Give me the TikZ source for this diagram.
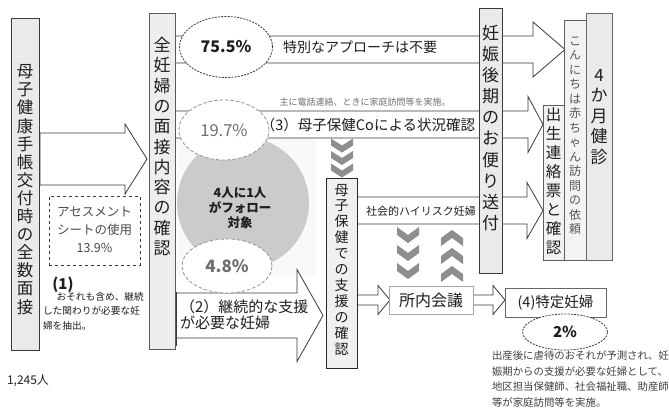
\documentclass[tikz,border=0pt]{standalone}
\usepackage{fontspec}
\setmainfont{Noto Sans CJK JP}
\usetikzlibrary{shapes.geometric}
\definecolor{lineC}{HTML}{3A3A3A}
\definecolor{boxF}{HTML}{EAEAEA}
\definecolor{chevC}{HTML}{8E8E8E}
\definecolor{txtC}{HTML}{1E1E1E}
\definecolor{grayT}{HTML}{6E6E6E}
\definecolor{circC}{HTML}{CBCBCB}
\newcommand\hollowarrow[7][]{%
  \draw[arrowshape,#1] ({#2},{#4-#5}) -- ({#3-#7},{#4-#5}) -- ({#3-#7},{#4-#6}) -- ({#3},{#4}) -- ({#3-#7},{#4+#6}) -- ({#3-#7},{#4+#5}) -- ({#2},{#4+#5}) -- cycle;}
\begin{document}
\lineskiplimit=-100pt
\begin{tikzpicture}[x=1pt,y=-1pt,
  every node/.style={inner sep=0pt, outer sep=0pt, text=txtC},
  vbox/.style={draw=lineC, fill=boxF, line width=.8pt},
  vtext/.style={align=center, execute at begin node={\lineskiplimit=-100pt}},
  arrowshape/.style={draw=lineC, fill=white, line width=.8pt, line join=miter},
  ellip/.style={ellipse, draw=lineC, fill=white, line width=.8pt, dash pattern=on 2pt off 1.2pt},
  chevdown/.pic={\fill[chevC] (-11,-7) -- (0,0) -- (11,-7) -- (11,0) -- (0,7) -- (-11,0) -- cycle;},
  chevup/.pic={\fill[chevC] (-11,7) -- (0,0) -- (11,7) -- (11,0) -- (0,-7) -- (-11,0) -- cycle;}
]
\useasboundingbox (0,0) rectangle (669,410);

% soft background and circle
\fill[gray!5] (177,138) rectangle (316,276);
\fill[circC] (243,203) circle (66pt);

% hollow arrows / bands
\hollowarrow{175}{565}{49.5}{13.5}{27.5}{32}
\hollowarrow{175}{543}{124.5}{13.5}{28}{15}
\hollowarrow{357}{543}{210.5}{13.5}{28}{16}
\hollowarrow{40}{147}{159}{26}{35}{22}
\hollowarrow{176}{323}{315.5}{22.5}{46}{26}
\hollowarrow{357}{390}{300}{5}{14.5}{12}
\hollowarrow{473}{505}{300}{5}{14.5}{12}
\draw[line width=1.6pt, lineC] (176,292) -- (176,346);

% boxes
\node[vbox, minimum width=28, minimum height=332] (mother) at (25,184) {};
\node[vtext, font=\fontsize{16.5}{18.1}\selectfont] (mothertxt) at (25,189.5)
  {母\\子\\健\\康\\手\\帳\\交\\付\\時\\の\\全\\数\\面\\接};
\node[vbox, draw=gray!70!black, fill=boxF!80!white, minimum width=26, minimum height=336] (allp) at (162,181) {};
\node[vtext, font=\fontsize{17}{20.3}\selectfont] (allptxt) at (162,146.5)
  {全\\妊\\婦\\の\\面\\接\\内\\容\\の\\確\\認};
\node[vbox, minimum width=23, minimum height=265] (letter) at (490.5,140.5) {};
\node[vtext, font=\fontsize{17}{21.1}\selectfont] (lettertxt) at (490.5,128)
  {妊\\娠\\後\\期\\の\\お\\便\\り\\送\\付};
\node[vbox, draw=black!85, fill=boxF!70!white, minimum width=31, minimum height=190] (mch) at (341.5,273) {};
\node[vtext, font=\fontsize{14}{15.9}\selectfont] (mchtxt) at (341.5,269.5)
  {母\\子\\保\\健\\で\\の\\支\\援\\の\\確\\認};
\node[vbox, draw=gray!75!black, fill=boxF!60!white, minimum width=21, minimum height=155] (birth) at (553.5,182.5) {};
\node[vtext, font=\fontsize{15.5}{19}\selectfont] (birthtxt) at (553.5,181.5)
  {出\\生\\連\\絡\\票\\と\\確\\認};
\node[vbox, draw=gray!75!black, fill=boxF!55!white, minimum width=22, minimum height=240] (hello) at (575,140) {};
\node[vtext, text=grayT!80!black, font=\fontsize{12}{14.5}\selectfont] (hellotxt) at (575,136)
  {こ\\ん\\に\\ち\\は\\赤\\ち\\ゃ\\ん\\訪\\問\\の\\依\\頼};
\node[vbox, draw=gray!80!black, minimum width=26, minimum height=247] (fourm) at (599,136.5) {};
\node[vtext, font=\fontsize{17}{20.5}\selectfont] (fourmtxt) at (599,117)
  {4\\か\\月\\健\\診};

\node[draw=gray!70, fill=white, line width=.8pt, minimum width=84, minimum height=28,
  font=\fontsize{16}{18}\selectfont] (meeting) at (431,300) {所内会議};
\node[draw=gray!80!black, fill=white, line width=.8pt, minimum width=101, minimum height=29,
  font=\fontsize{14.5}{16}\selectfont] (special) at (555.5,302.5) {(4)特定妊婦};

\node[draw=lineC, dashed, line width=.8pt, minimum width=91, minimum height=69] (assess) at (94.5,230.5) {};
\node[vtext, text=txtC!80, font=\fontsize{12.5}{18}\selectfont] (assesstxt) at (94.5,230)
  {アセスメント\\シートの使用\\13.9\%};

% ellipses
\node[ellip, minimum width=93, minimum height=61, font=\fontsize{16}{18}\selectfont\bfseries] (e755) at (226,47) {75.5\%};
\node[ellip, draw=gray!85, dash pattern=on 3.5pt off 2pt, minimum width=90, minimum height=60,
  text=grayT, font=\fontsize{16.5}{18}\selectfont] (e197) at (224,130) {19.7\%};
\node[ellip, draw=gray!85, dash pattern=on 3.5pt off 2pt, minimum width=90, minimum height=54,
  text=grayT, font=\fontsize{17}{18}\selectfont\bfseries] (e48) at (227,266) {4.8\%};
\node[ellip, minimum width=85, minimum height=36, font=\fontsize{15}{18}\selectfont\bfseries] (e2) at (565,332) {2\%};

% chevrons
\foreach \yy in {145.5,158,170.5} \pic at (342,\yy) {chevdown};
\foreach \yy in {235,253,271} \pic[yscale=1.15] at (408,\yy) {chevdown};
\foreach \yy in {238,256,274} \pic[yscale=1.15] at (452,\yy) {chevup};

% texts
\node[font=\fontsize{14}{16}\selectfont] (noneed) at (360,47) {特別なアプローチは不要};
\node[text=grayT, font=\fontsize{9}{10}\selectfont] (phone) at (365,102) {主に電話連絡、ときに家庭訪問等を実施。};
\node[font=\fontsize{14.5}{16}\selectfont] (check3) at (368,125) {（3）母子保健Coによる状況確認};
\node[font=\fontsize{11}{12}\selectfont] (highrisk) at (421,211) {社会的ハイリスク妊婦};
\node[vtext, font=\fontsize{12.5}{15}\selectfont\bfseries] (follow) at (240,208) {4人に1人\\がフォロー\\対象};
\node[anchor=west, align=left, execute at begin node={\lineskiplimit=-100pt}, font=\fontsize{15}{16}\selectfont] (cont2) at (180,315) {（2）継続的な支援\\が必要な妊婦};
\node[font=\fontsize{15}{16}\selectfont\bfseries] (n1) at (63,285) {(1)};
\node[anchor=north west, align=left, execute at begin node={\lineskiplimit=-100pt}, font=\fontsize{9.7}{14.5}\selectfont] (n1txt) at (43,292)
  {\hspace{1.4em}おそれも含め、継続\\した関わりが必要な妊\\婦を抽出。};
\node[font=\fontsize{12}{14}\selectfont] (total) at (28,381) {1,245人};
\node[anchor=north west, align=left, execute at begin node={\lineskiplimit=-100pt}, text=txtC!85, font=\fontsize{10.4}{15.5}\selectfont] (note4) at (492,351)
  {出産後に虐待のおそれが予測され、妊\\娠期からの支援が必要な妊婦として、\\地区担当保健師、社会福祉職、助産師\\等が家庭訪問等を実施。};
\end{tikzpicture}
\end{document}
